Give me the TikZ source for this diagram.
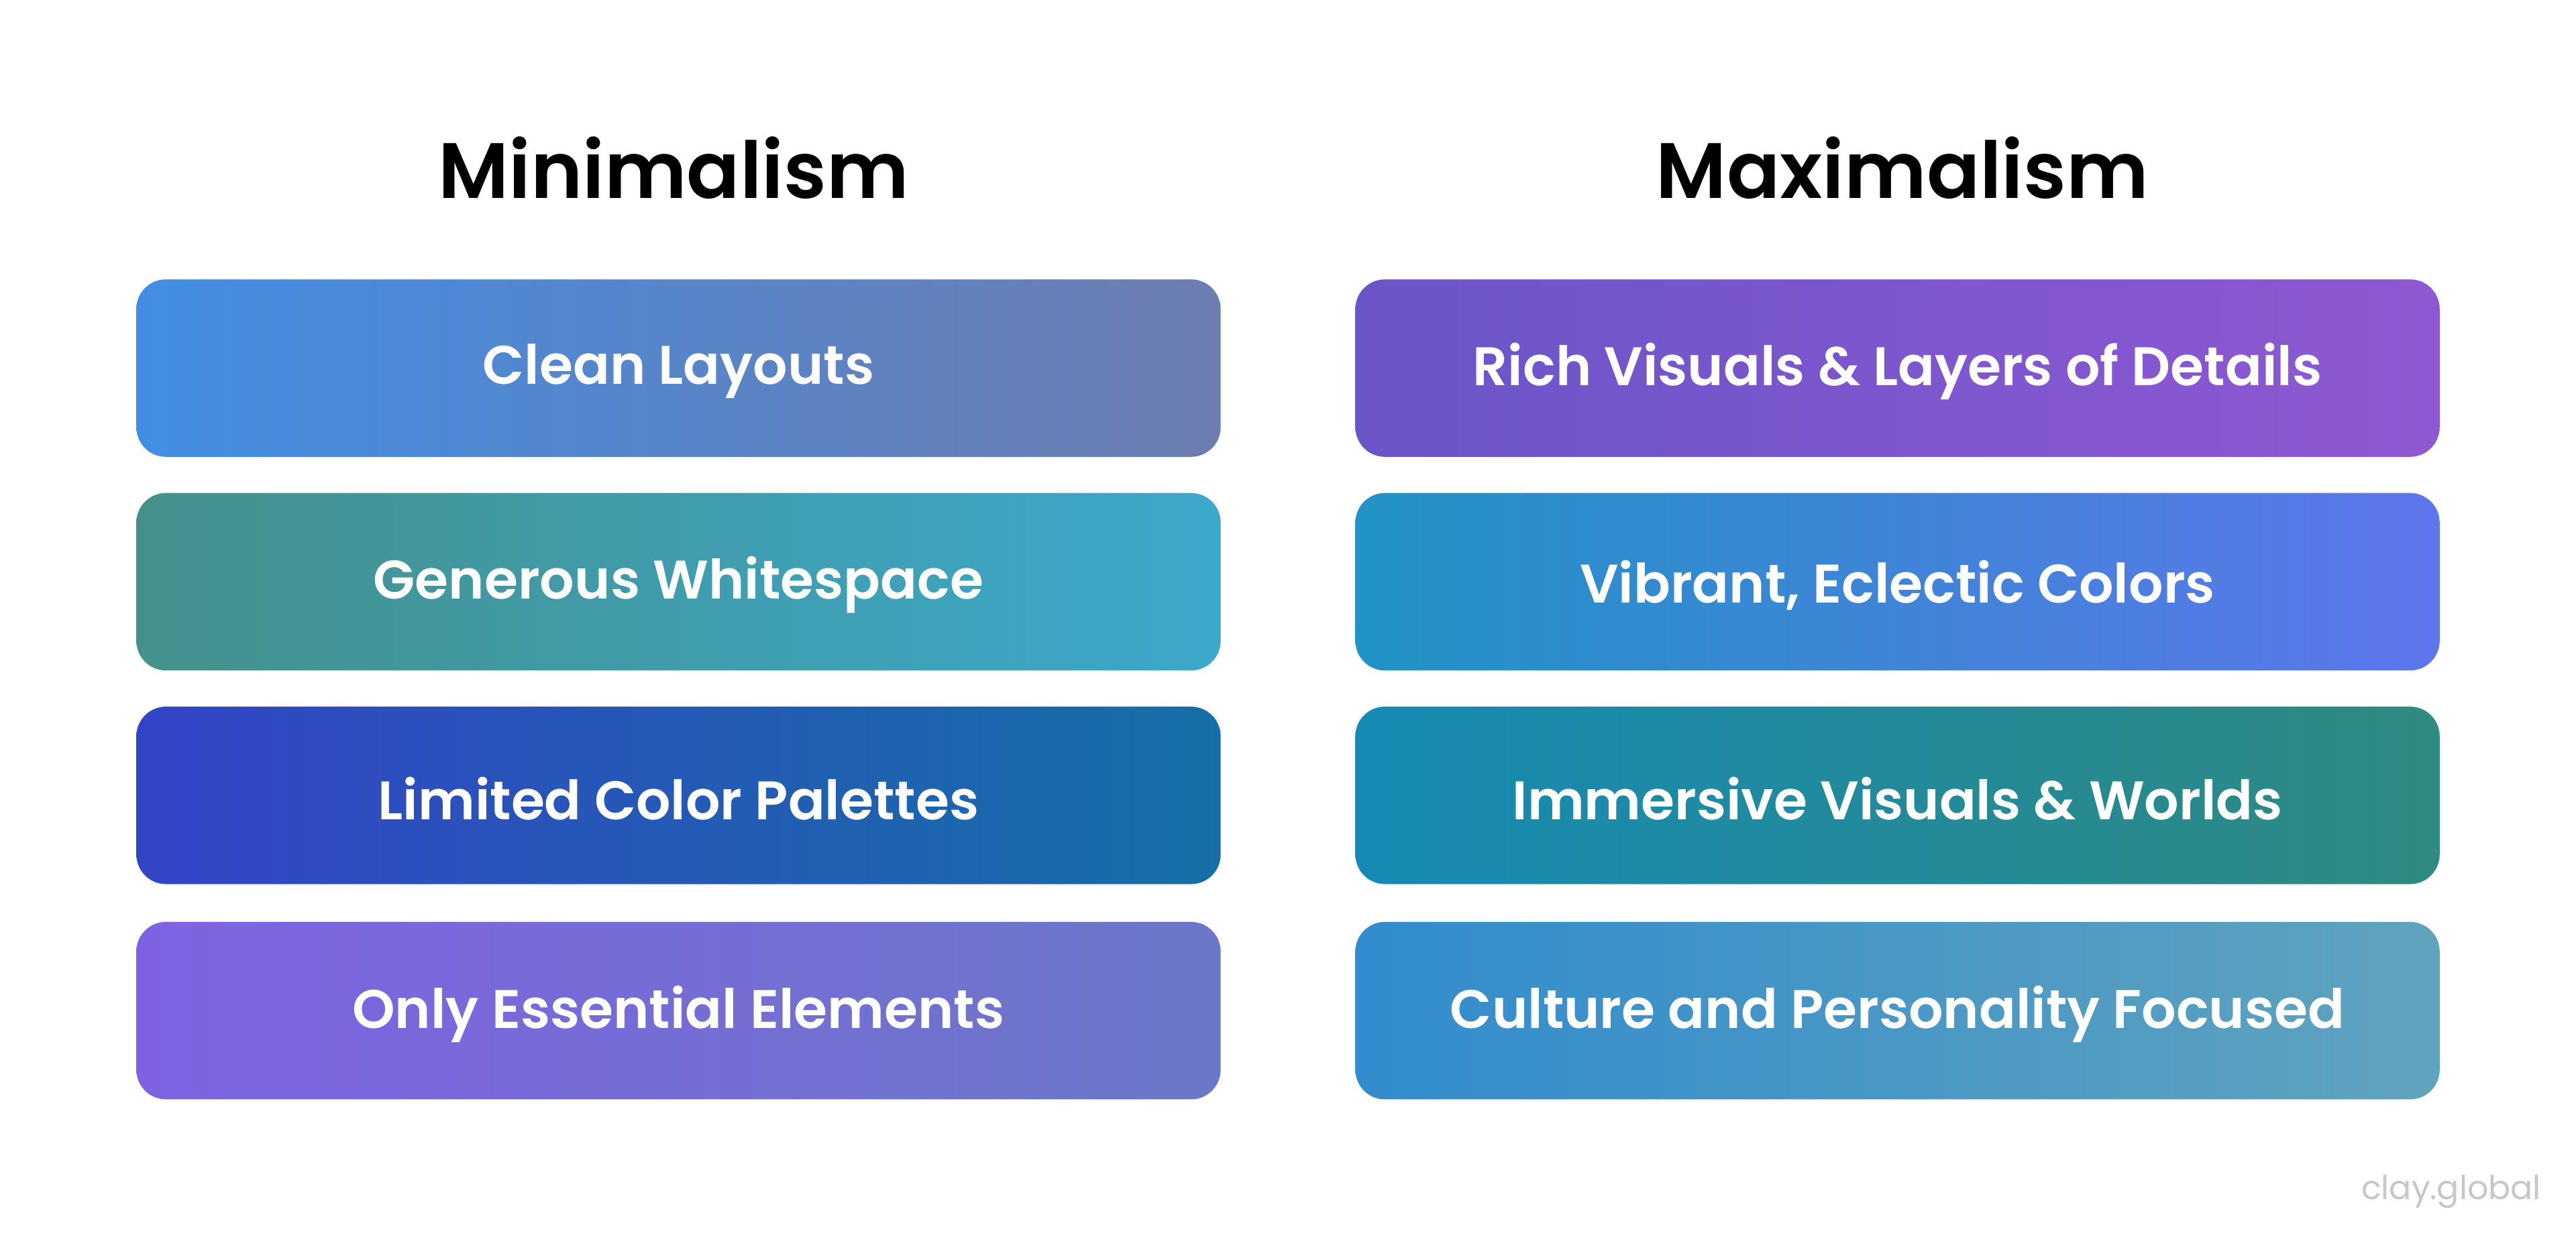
\documentclass[tikz,border=0pt]{standalone}
\usepackage{fontspec}
\setmainfont{Poppins}[BoldFont={Poppins SemiBold}]
\begin{document}
\begin{tikzpicture}[x=1mm,y=-1mm,
  card/.style={rounded corners=18mm,draw=none},
  lbl/.style={text=white,font=\fontsize{94pt}{100pt}\selectfont\bfseries},
  ttl/.style={text=black,font=\fontsize{136pt}{146pt}\selectfont\bfseries}]
\useasboundingbox[fill=white] (0,0) rectangle (1568,752);
\definecolor{a1}{HTML}{428DE3}\definecolor{a2}{HTML}{6D7DB0}
\definecolor{b1}{HTML}{6A55C8}\definecolor{b2}{HTML}{8F58D3}
\definecolor{c1}{HTML}{44918C}\definecolor{c2}{HTML}{3CA8CC}
\definecolor{d1}{HTML}{2193C4}\definecolor{d2}{HTML}{5E76EC}
\definecolor{e1}{HTML}{3344C6}\definecolor{e2}{HTML}{166FA6}
\definecolor{f1}{HTML}{168AB4}\definecolor{f2}{HTML}{2F8A80}
\definecolor{g1}{HTML}{7F62E3}\definecolor{g2}{HTML}{6B78C8}
\definecolor{h1}{HTML}{328CCD}\definecolor{h2}{HTML}{60A3BE}
\node[ttl] (tl) at (410,102) {Minimalism};
\node[ttl] (tr) at (1158,102) {Maximalism};
\foreach \i/\y/\cl/\cr/\tl/\tr in {
 1/170/a/b/Clean Layouts/Rich Visuals \& Layers of Details,
 2/300/c/d/Generous Whitespace/{Vibrant, Eclectic Colors},
 3/430/e/f/Limited Color Palettes/Immersive Visuals \& Worlds,
 4/561/g/h/Only Essential Elements/Culture and Personality Focused}{
  \shade[card,left color=\cl1,right color=\cl2] (83,\y) rectangle (743,\y+108);
  \shade[card,left color=\cr1,right color=\cr2] (825,\y) rectangle (1485,\y+108);
  \node[lbl] (l\i) at (413,\y+56) {\tl};
  \node[lbl] (r\i) at (1155,\y+56) {\tr};
}
\node[anchor=base east,text=black!22,font=\fontsize{57pt}{60pt}\selectfont] (cg) at (1548,730) {clay.global};
\end{tikzpicture}
\end{document}
